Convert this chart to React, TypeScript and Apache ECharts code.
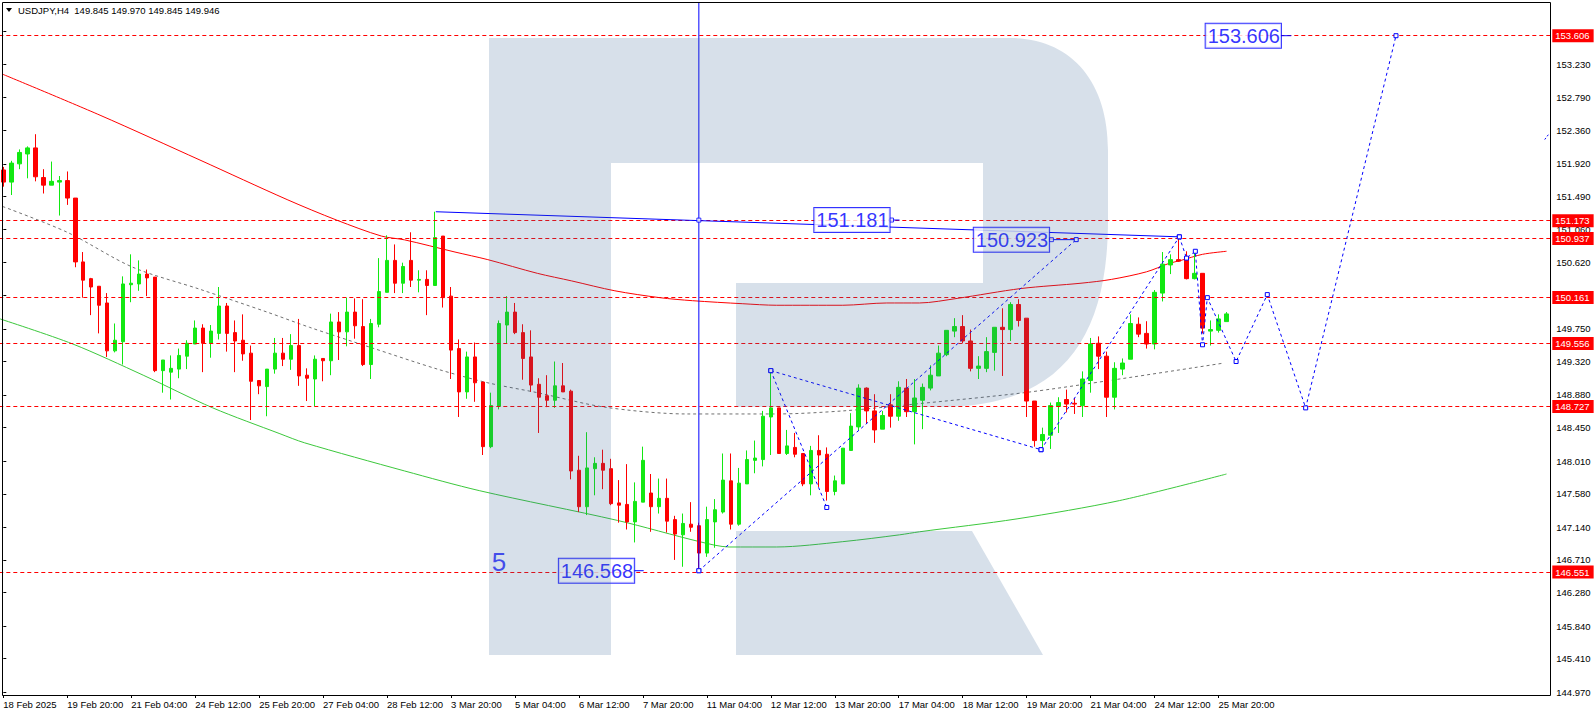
import React, { useEffect, useRef } from "react";
import * as echarts from "echarts";

const FONT = '"Liberation Sans", Arial, sans-serif';
const BOX_FONT = '"Liberation Sans", Arial, sans-serif';

const headerText = "USDJPY,H4  149.845 149.970 149.845 149.946";

// bar slots on the time axis (H4 bars + empty space on the right)
const slotCount = 194;
const categories = Array.from({ length: slotCount }, (_, i) => String(i));
const xTickStep = 8;
const xTickLabels = [
  "18 Feb 2025", "19 Feb 20:00", "21 Feb 04:00", "24 Feb 12:00", "25 Feb 20:00",
  "27 Feb 04:00", "28 Feb 12:00", "3 Mar 20:00", "5 Mar 04:00", "6 Mar 12:00",
  "7 Mar 20:00", "11 Mar 04:00", "12 Mar 12:00", "13 Mar 20:00", "17 Mar 04:00",
  "18 Mar 12:00", "19 Mar 20:00", "21 Mar 04:00", "24 Mar 12:00", "25 Mar 20:00",
];

const yMin = 144.933;
const yMax = 154.036;
const yTicks = [
  144.97, 145.41, 145.84, 146.28, 146.71, 147.14, 147.58, 148.01, 148.45, 148.88,
  149.32, 149.75, 150.19, 150.62, 151.06, 151.49, 151.92, 152.36, 152.79, 153.23, 153.66,
];
// labels hidden behind the level boxes on the price scale
const yTickLabels = [
  144.97, 145.41, 145.84, 146.28, 146.71, 147.14, 147.58, 148.01, 148.45, 148.88,
  149.32, 149.75, 150.62, 151.06, 151.49, 151.92, 152.36, 152.79, 153.23,
];

// OHLC
const open = [
  151.84, 151.68, 151.92, 152.05, 152.13, 151.74, 151.64, 151.68, 151.70, 151.47,
  150.63, 150.41, 150.31, 150.09, 149.46, 149.58, 150.33, 150.34, 150.47, 150.43,
  149.20, 149.18, 149.22, 149.39, 149.55, 149.76, 149.56, 149.69, 150.05, 149.70,
  149.60, 149.43, 149.07, 148.99, 149.22, 149.43, 149.35, 149.53, 149.14, 149.09,
  149.36, 149.33, 149.84, 149.71, 149.97, 149.78, 149.28, 149.81, 150.23, 150.65,
  150.35, 150.65, 150.39, 150.40, 150.32, 150.97, 150.18, 149.49, 148.92, 149.38,
  149.05, 148.20, 148.73, 149.80, 149.97, 149.70, 149.38, 149.02, 148.87, 148.81,
  149.00, 148.93, 147.89, 147.41, 147.91, 147.98, 147.91, 147.46, 147.44, 147.21,
  147.47, 147.59, 147.41, 147.52, 147.24, 147.04, 147.18, 147.16, 146.80, 147.21,
  147.34, 147.75, 147.18, 147.71, 148.02, 148.03, 148.59, 148.71, 148.11, 148.19,
  148.11, 147.71, 148.15, 148.10, 147.61, 147.71, 148.15, 148.46, 148.97, 148.67,
  148.43, 148.75, 148.60, 148.97, 148.66, 148.81, 148.97, 149.13, 149.41, 149.72,
  149.78, 149.59, 149.23, 149.23, 149.44, 149.77, 149.74, 150.07, 149.89, 148.80,
  148.28, 148.35, 148.73, 148.82, 148.77, 148.74, 149.07, 149.56, 149.39, 148.85,
  149.22, 149.35, 149.81, 149.69, 149.55, 150.22, 150.59, 150.66, 150.66, 150.41,
  150.48, 149.72, 149.73, 149.845,
];
const high = [
  151.88, 151.96, 152.11, 152.15, 152.31, 151.85, 151.95, 151.76, 151.82, 151.47,
  150.76, 150.42, 150.31, 150.22, 149.82, 150.44, 150.73, 150.65, 150.53, 150.43,
  149.34, 149.40, 149.49, 149.60, 149.86, 149.81, 149.80, 150.30, 150.09, 149.86,
  149.94, 149.53, 149.07, 149.22, 149.63, 149.63, 149.68, 149.88, 149.23, 149.40,
  149.36, 149.95, 149.97, 150.16, 150.15, 150.14, 149.88, 150.68, 150.98, 150.86,
  150.62, 151.02, 150.52, 150.52, 151.29, 150.97, 150.30, 149.61, 149.45, 149.57,
  149.05, 148.91, 149.86, 150.18, 150.09, 149.81, 149.73, 149.10, 149.14, 149.32,
  149.30, 148.95, 148.08, 148.39, 148.06, 148.16, 148.04, 147.76, 147.97, 147.73,
  148.20, 147.84, 147.78, 147.78, 147.29, 147.32, 147.47, 147.20, 147.41, 147.51,
  148.11, 148.11, 147.92, 148.15, 148.28, 148.67, 149.20, 148.71, 148.42, 148.38,
  148.11, 148.21, 148.35, 148.19, 147.82, 148.18, 148.64, 149.02, 148.98, 148.89,
  148.67, 148.89, 149.06, 149.09, 149.09, 149.03, 149.27, 149.53, 149.73, 149.89,
  149.93, 149.74, 149.39, 149.64, 149.77, 150.02, 150.10, 150.14, 149.89, 148.80,
  148.45, 148.78, 148.85, 148.95, 148.84, 149.19, 149.63, 149.65, 149.45, 149.31,
  149.36, 149.94, 149.90, 149.85, 150.26, 150.76, 150.73, 150.96, 150.77, 150.77,
  150.48, 149.86, 149.94, 149.970,
];
const low = [
  151.62, 151.51, 151.85, 151.73, 151.69, 151.53, 151.64, 151.24, 151.38, 150.56,
  150.16, 149.93, 149.69, 149.38, 149.44, 149.28, 150.10, 150.25, 150.18, 149.18,
  148.91, 148.82, 149.10, 149.22, 149.55, 149.18, 149.37, 149.61, 149.45, 149.18,
  149.33, 148.55, 148.89, 148.60, 149.16, 149.26, 149.21, 149.00, 148.80, 148.73,
  149.06, 149.14, 149.34, 149.52, 149.62, 149.26, 149.09, 149.77, 150.23, 150.22,
  150.22, 150.30, 150.23, 149.93, 150.32, 150.03, 149.09, 148.59, 148.83, 148.79,
  148.09, 148.18, 148.69, 149.56, 149.68, 149.08, 148.92, 148.38, 148.72, 148.71,
  148.92, 147.77, 147.34, 147.30, 147.56, 147.64, 147.43, 147.20, 147.11, 146.94,
  147.47, 147.08, 147.32, 147.07, 146.71, 146.62, 147.08, 146.57, 146.75, 146.87,
  147.32, 147.11, 147.16, 147.71, 147.85, 147.94, 148.09, 148.11, 148.09, 148.06,
  147.68, 147.56, 147.67, 147.49, 147.56, 147.71, 148.15, 148.41, 148.50, 148.25,
  148.43, 148.45, 148.54, 148.59, 148.23, 148.43, 148.94, 149.13, 149.39, 149.64,
  149.56, 149.19, 149.09, 149.18, 149.20, 149.13, 149.59, 149.78, 148.59, 148.20,
  148.17, 148.17, 148.38, 148.65, 148.63, 148.59, 148.91, 149.22, 148.59, 148.69,
  149.14, 149.35, 149.64, 149.49, 149.48, 150.11, 150.47, 150.63, 150.40, 150.40,
  149.69, 149.53, 149.70, 149.845,
];
const close = [
  151.68, 151.93, 152.07, 152.13, 151.75, 151.64, 151.69, 151.70, 151.47, 150.63,
  150.39, 150.30, 150.06, 149.46, 149.60, 150.34, 150.35, 150.47, 150.42, 149.20,
  149.34, 149.23, 149.40, 149.56, 149.76, 149.56, 149.72, 150.05, 149.69, 149.59,
  149.42, 149.06, 149.00, 149.22, 149.43, 149.35, 149.53, 149.13, 149.10, 149.35,
  149.33, 149.84, 149.71, 149.97, 149.79, 149.28, 149.82, 150.24, 150.65, 150.35,
  150.57, 150.39, 150.40, 150.32, 150.95, 150.16, 149.47, 148.92, 149.38, 149.04,
  148.20, 148.74, 149.82, 149.97, 149.70, 149.36, 149.01, 148.85, 148.81, 149.00,
  148.92, 147.88, 147.41, 147.92, 147.98, 147.89, 147.45, 147.43, 147.21, 147.48,
  148.02, 147.41, 147.52, 147.22, 147.05, 147.19, 147.14, 146.80, 147.24, 147.37,
  147.76, 147.18, 147.72, 148.03, 148.05, 148.60, 148.71, 148.11, 148.21, 148.10,
  147.71, 148.15, 148.09, 147.61, 147.75, 148.18, 148.47, 148.97, 148.67, 148.42,
  148.61, 148.60, 148.98, 148.66, 148.84, 148.98, 149.14, 149.43, 149.73, 149.78,
  149.59, 149.23, 149.26, 149.45, 149.77, 149.74, 150.07, 149.86, 148.80, 148.28,
  148.36, 148.74, 148.78, 148.76, 148.76, 149.09, 149.55, 149.39, 148.85, 149.23,
  149.30, 149.82, 149.68, 149.55, 150.23, 150.60, 150.66, 150.64, 150.41, 150.48,
  149.76, 149.74, 149.88, 149.946,
];

// moving averages, read at points [bar position, price]
const redMa = [
  [-0.1, 153.1], [12.1, 152.56], [24.6, 151.97], [35.5, 151.45], [41.7, 151.18],
  [47.3, 150.97], [50.2, 150.92], [56.5, 150.76], [60.6, 150.66], [66.8, 150.48],
  [71.1, 150.38], [76.5, 150.25], [82.1, 150.16], [86.2, 150.12], [92.5, 150.08],
  [96.7, 150.06], [105, 150.06], [110.5, 150.09], [114.6, 150.09], [119.3, 150.15],
  [127.3, 150.28], [134.8, 150.35], [138.6, 150.4], [143, 150.5], [145.8, 150.61],
  [147.3, 150.65], [150, 150.73], [153, 150.77],
];
const greenMa = [
  [-0.4, 149.88], [8.7, 149.55], [17.5, 149.14], [26.2, 148.71], [34.6, 148.37],
  [37.7, 148.25], [50.2, 147.88], [59.6, 147.62], [76.8, 147.23], [87.1, 146.95],
  [90.8, 146.88], [96.7, 146.88], [105, 146.95], [112.1, 147.04], [114.6, 147.08],
  [126.8, 147.25], [139.6, 147.49], [153, 147.84],
];
const grayMa = [
  [-0.1, 151.36], [8, 151.02], [16.2, 150.56], [24.6, 150.27], [33, 149.97],
  [38.3, 149.77], [46.1, 149.5], [54.3, 149.22], [60.6, 149.04], [66.8, 148.91],
  [75.2, 148.72], [85.5, 148.63], [96.7, 148.63], [105, 148.67], [114, 148.76],
  [127.7, 148.91], [139, 149.08], [152.7, 149.3],
];

// horizontal levels
const levelLines = [153.606, 151.173, 150.937, 150.161, 149.556, 148.727, 146.551];
const lastPrice = 149.946;

// drawn objects
const trendLine = [[54.1, 151.29], [147.1, 150.96]];
const verticalLine = [[87, yMax], [87, 146.568]];
const waveA = [[87, 146.568], [134.2, 150.923]];
const waveB = [[96, 149.2], [103, 147.4]];
const waveC = [[96, 149.2], [129.8, 148.16]];
const waveD = [[129.8, 148.16], [147.1, 150.96]];
const forecast = [
  [147.1, 150.96], [148, 150.68], [149.1, 150.77], [150, 149.54], [150.6, 150.16],
  [154.2, 149.32], [158.1, 150.2], [162.9, 148.71], [174.2, 153.606],
];
const edgeStub = [[192.8, 152.24], [193.3, 152.31]];
const squareMarks = [[87, 151.18], [87, 146.568], [111.1, 151.181], [131.1, 150.923]];
const connectors = [
  [[159.7, 153.606], [161.1, 153.606]],
  [[110.7, 151.181], [112.1, 151.181]],
  [[130.7, 150.923], [134.2, 150.923]],
  [[78.8, 146.568], [80.1, 146.568]],
];
const boxLabels = [
  { text: "153.606", at: [155.1, 153.606] },
  { text: "151.181", at: [106.15, 151.181] },
  { text: "150.923", at: [126.1, 150.923] },
  { text: "146.568", at: [74.2, 146.568] },
];
const waveCount = { text: "5", at: [62, 146.68] };

const BLUE = "#0000ff";
const RED = "#ff0000";
const GREEN = "#12e812";

const logoPath =
  "M489 38 L1010 38 C1070 38 1108 80 1108 150 L1108 220 C1108 340 1060 407 940 407 L736 407 L736 283 L983 283 L983 163 L611 163 L611 655 L489 655 Z " +
  "M736 531 L972 531 L1043 655 L736 655 Z";
echarts.graphic.registerShape("rfLogo", echarts.graphic.extendPath(logoPath, {}));

const tickInterval = (i: number) => i % xTickStep === 0 && i / xTickStep < xTickLabels.length;

function lineSeries(data: number[][], color: string, opts: any = {}) {
  return {
    type: "line",
    xAxisIndex: 1,
    yAxisIndex: 0,
    data,
    symbol: "none",
    silent: true,
    lineStyle: { color, width: 1, type: opts.type || "solid" },
    smooth: opts.smooth || false,
    z: opts.z || 4,
  };
}

function dashedWave(data: number[][]) {
  return {
    type: "line",
    xAxisIndex: 1,
    yAxisIndex: 0,
    data,
    symbol: "rect",
    symbolSize: 4,
    showSymbol: true,
    silent: true,
    itemStyle: { color: "#ffffff", borderColor: BLUE, borderWidth: 1 },
    lineStyle: { color: BLUE, width: 1, type: [3, 3] },
    z: 5,
  };
}

export default function App() {
  const ref = useRef<HTMLDivElement>(null);
  useEffect(() => {
    if (!ref.current) return;
    const chart = echarts.init(ref.current, null, { renderer: "svg" });
    const option: any = {
      animation: false,
      backgroundColor: "#ffffff",
      grid: {
        left: -0.7,
        top: 3,
        width: 1551,
        height: 692,
        containLabel: false,
        outerBoundsMode: "none",
      },
      xAxis: [
        {
          type: "category",
          data: categories,
          boundaryGap: true,
          axisLine: { show: false },
          splitLine: { show: false },
          axisTick: {
            show: true,
            alignWithLabel: true,
            interval: tickInterval,
            length: 3,
            lineStyle: { color: "#000" },
          },
          axisLabel: {
            interval: tickInterval,
            formatter: (_v: string, i: number) => xTickLabels[i / xTickStep],
            align: "left",
            margin: 4,
            fontSize: 9.5,
            color: "#000",
            fontFamily: FONT,
          },
        },
        { type: "value", min: -0.5, max: slotCount - 0.5, show: false },
      ],
      yAxis: {
        type: "value",
        position: "right",
        min: yMin,
        max: yMax,
        splitLine: { show: false },
        axisLine: { show: false },
        axisTick: { show: true, customValues: yTicks, length: 3, lineStyle: { color: "#000" } },
        axisLabel: {
          customValues: yTickLabels,
          formatter: (v: number) => v.toFixed(3),
          color: "#000",
          fontSize: 9.5,
          fontFamily: FONT,
          margin: 6,
        },
      },
      graphic: [
        {
          type: "rfLogo",
          x: 0,
          y: 0,
          z: 50,
          silent: true,
          style: { fill: "rgba(54,98,152,0.2)" },
        },
        {
          type: "rect",
          z: 60,
          silent: true,
          shape: { x: 2.5, y: 2.5, width: 1548, height: 693 },
          style: { fill: "none", stroke: "#000", lineWidth: 1 },
        },
        {
          type: "polygon",
          z: 60,
          silent: true,
          shape: { points: [[6, 8], [12, 8], [9, 12]] },
          style: { fill: "#000" },
        },
        {
          type: "text",
          z: 60,
          x: 18,
          y: 10.5,
          silent: true,
          style: { text: headerText, fill: "#000", font: `9.5px ${FONT}`, verticalAlign: "middle" },
        },
      ],
      series: [
        lineSeries(redMa, RED, { smooth: 0.3, z: 1 }),
        lineSeries(greenMa, "#3cc83c", { smooth: 0.3, z: 1 }),
        lineSeries(grayMa, "#707070", { smooth: 0.3, z: 1, type: [3, 3] }),
        {
          type: "candlestick",
          xAxisIndex: 0,
          yAxisIndex: 0,
          z: 3,
          barWidth: 4,
          silent: true,
          data: open.map((o, i) => [o, close[i], low[i], high[i]]),
          itemStyle: {
            color: GREEN,
            color0: RED,
            borderColor: GREEN,
            borderColor0: RED,
            borderWidth: 1,
          },
          markLine: {
            silent: true,
            symbol: ["none", "none"],
            precision: 3,
            animation: false,
            lineStyle: { color: RED, type: [4, 3], width: 1 },
            label: {
              show: true,
              position: "end",
              distance: 2,
              formatter: "{b}",
              color: "#fff",
              backgroundColor: RED,
              padding: [2, 4, 1, 3],
              fontSize: 9.5,
              fontFamily: FONT,
            },
            data: [
              ...levelLines.map((v) => ({ yAxis: v, name: v.toFixed(3) })),
              {
                yAxis: lastPrice,
                name: lastPrice.toFixed(3),
                lineStyle: { opacity: 0 },
                label: { backgroundColor: "#000" },
              },
            ],
          },
        },
        lineSeries(trendLine, BLUE, { z: 5 }),
        lineSeries(verticalLine, BLUE, { z: 5 }),
        dashedWave(waveA),
        dashedWave(waveB),
        dashedWave(waveC),
        dashedWave(waveD),
        dashedWave(forecast),
        lineSeries(edgeStub, BLUE, { z: 5, type: [2, 2] }),
        ...connectors.map((c) => lineSeries(c, BLUE, { z: 5 })),
        {
          type: "scatter",
          xAxisIndex: 1,
          yAxisIndex: 0,
          data: squareMarks,
          symbol: "rect",
          symbolSize: 4,
          silent: true,
          itemStyle: { color: "#ffffff", borderColor: BLUE, borderWidth: 1 },
          z: 6,
        },
        {
          type: "scatter",
          xAxisIndex: 1,
          yAxisIndex: 0,
          symbol: "rect",
          symbolSize: 1,
          silent: true,
          itemStyle: { color: "rgba(0,0,0,0)" },
          z: 7,
          data: boxLabels.map((b) => ({ value: b.at, name: b.text })),
          label: {
            show: true,
            position: "inside",
            formatter: "{b}",
            color: BLUE,
            fontSize: 20,
            lineHeight: 22,
            fontFamily: BOX_FONT,
            backgroundColor: "#ffffff",
            borderColor: BLUE,
            borderWidth: 1,
            padding: [1, 1, 1, 2],
          },
        },
        {
          type: "scatter",
          xAxisIndex: 1,
          yAxisIndex: 0,
          symbol: "rect",
          symbolSize: 1,
          silent: true,
          itemStyle: { color: "rgba(0,0,0,0)" },
          z: 7,
          data: [{ value: waveCount.at, name: waveCount.text }],
          label: {
            show: true,
            position: "inside",
            formatter: "{b}",
            color: "#1414ff",
            fontSize: 26,
            fontFamily: FONT,
          },
        },
      ],
    };
    chart.setOption(option);
    return () => chart.dispose();
  }, []);
  return (
    <div
      ref={ref}
      style={{ position: "fixed", left: 0, top: 0, width: 1596, height: 716, background: "#fff" }}
    />
  );
}
